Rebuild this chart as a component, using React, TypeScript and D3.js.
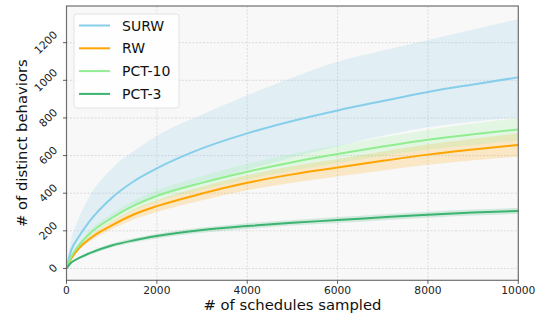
import React from "react";
import * as d3 from "d3";

const xs = [0, 100, 250, 500, 1000, 1500, 2000, 3000, 4000, 5000, 6000, 7000, 8000, 9000, 10000];

const surw = [0, 95, 160, 248, 375, 465, 532, 638, 718, 784, 840, 890, 938, 978, 1016];
const surwHi = [0, 150, 255, 380, 530, 625, 705, 818, 920, 1015, 1099, 1158, 1214, 1270, 1326];
const surwLo = [0, 60, 115, 180, 270, 335, 385, 460, 525, 590, 650, 705, 750, 780, 803];

const rw = [0, 50, 100, 155, 229, 288, 331, 398, 455, 500, 536, 572, 605, 632, 657];
const rwHi = [0, 55, 110, 170, 250, 315, 362, 434, 495, 543, 582, 622, 660, 690, 718];
const rwLo = [0, 45, 90, 140, 208, 261, 300, 362, 415, 456, 489, 521, 551, 575, 595];

const pct10 = [0, 60, 115, 182, 268, 335, 385, 455, 514, 565, 608, 648, 684, 713, 739];
const pct10Hi = [0, 66, 126, 199, 291, 362, 415, 492, 556, 610, 655, 698, 736, 770, 800];
const pct10Lo = [0, 54, 104, 165, 245, 308, 355, 418, 474, 520, 561, 598, 632, 656, 680];

const pct3 = [0, 30, 52, 80, 122, 150, 172, 204, 225, 243, 257, 272, 286, 297, 306];
const pct3Hi = [0, 34, 58, 88, 132, 162, 185, 218, 240, 258, 273, 288, 302, 313, 322];
const pct3Lo = [0, 26, 46, 72, 112, 138, 159, 190, 210, 228, 241, 256, 270, 281, 290];

const seriesNames = ["SURW", "RW", "PCT-10", "PCT-3"];
const xTicks = [0, 2000, 4000, 6000, 8000, 10000];
const yTicks = [0, 200, 400, 600, 800, 1000, 1200];

const W = 543;
const H = 318;
const L = 66.5;
const R = 518.3;
const T = 6;
const B = 280.3;

export default function App() {
  const x = d3.scaleLinear().domain([0, 10000]).range([L, R]);
  const y = d3.scaleLinear().domain([-63, 1395]).range([B, T]);

  const series = [
    { name: seriesNames[0], mean: surw, hi: surwHi, lo: surwLo, color: "#87CEEB" },
    { name: seriesNames[1], mean: rw, hi: rwHi, lo: rwLo, color: "#FFA500" },
    { name: seriesNames[2], mean: pct10, hi: pct10Hi, lo: pct10Lo, color: "#90EE90" },
    { name: seriesNames[3], mean: pct3, hi: pct3Hi, lo: pct3Lo, color: "#3CB371" },
  ];

  const line = d3
    .line<number>()
    .x((_, i) => x(xs[i]))
    .y((d) => y(d))
    .curve(d3.curveMonotoneX);

  const area = (hi: number[], lo: number[]) =>
    d3
      .area<number>()
      .x((_, i) => x(xs[i]))
      .y0((_, i) => y(lo[i]))
      .y1((_, i) => y(hi[i]))
      .curve(d3.curveMonotoneX)(hi) || "";

  const font = "DejaVu Sans, sans-serif";
  const tickFs = 10.7;

  return (
    <svg width={W} height={H} style={{ position: "absolute", left: 0, top: 0, background: "#fff" }} fontFamily={font}>
      <defs>
        <clipPath id="plot">
          <rect x={L} y={T} width={R - L} height={B - T} />
        </clipPath>
      </defs>
      <rect x={L} y={T} width={R - L} height={B - T} fill="#f8f8f8" />
      {xTicks.map((t) => (
        <line key={"gx" + t} x1={x(t)} x2={x(t)} y1={T} y2={B} stroke="#d4d4d4" strokeWidth={0.8} strokeDasharray="2,1.5" />
      ))}
      {yTicks.map((t) => (
        <line key={"gy" + t} x1={L} x2={R} y1={y(t)} y2={y(t)} stroke="#d4d4d4" strokeWidth={0.8} strokeDasharray="2,1.5" />
      ))}
      <g clipPath="url(#plot)">
        {series.map((s) => (
          <path key={"a" + s.name} d={area(s.hi, s.lo)} fill={s.color} fillOpacity={0.2} stroke="none" />
        ))}
        {series.map((s) => (
          <path key={"l" + s.name} d={line(s.mean) || ""} fill="none" stroke={s.color} strokeWidth={2} />
        ))}
      </g>
      <rect x={L} y={T} width={R - L} height={B - T} fill="none" stroke="#707070" strokeWidth={1.2} />
      {xTicks.map((t) => (
        <g key={"xt" + t}>
          <line x1={x(t)} x2={x(t)} y1={B} y2={B + 3.5} stroke="#333" strokeWidth={0.8} />
          <text x={x(t)} y={294.3} textAnchor="middle" fontSize={tickFs} fill="#222">
            {t}
          </text>
        </g>
      ))}
      {yTicks.map((t) => {
        const label = String(t);
        const len = label.length * 0.636 * tickFs;
        const cx = 59 - (len + tickFs * 0.9) * 0.354;
        return (
          <g key={"yt" + t}>
            <line x1={L - 3.5} x2={L} y1={y(t)} y2={y(t)} stroke="#333" strokeWidth={0.8} />
            <text
              transform={`translate(${cx},${y(t)}) rotate(-45)`}
              textAnchor="middle"
              dominantBaseline="central"
              fontSize={tickFs}
              fill="#222"
            >
              {label}
            </text>
          </g>
        );
      })}
      <text x={(L + R) / 2} y={310} textAnchor="middle" fontSize={14.8} fill="#111">
        # of schedules sampled
      </text>
      <text transform={`translate(27,${(T + B) / 2}) rotate(-90)`} textAnchor="middle" fontSize={14.8} fill="#111">
        # of distinct behaviors
      </text>
      <rect x={74} y={14} width={105} height={94} rx={3} fill="#ffffff" fillOpacity={0.85} stroke="#dddddd" strokeWidth={0.8} />
      {series.map((s, i) => {
        const cy = 25.5 + i * 22.8;
        return (
          <g key={"lg" + s.name}>
            <line x1={79} x2={110} y1={cy} y2={cy} stroke={s.color} strokeWidth={2} />
            <text x={122} y={cy} dominantBaseline="central" fontSize={14} fill="#111">
              {s.name}
            </text>
          </g>
        );
      })}
    </svg>
  );
}
